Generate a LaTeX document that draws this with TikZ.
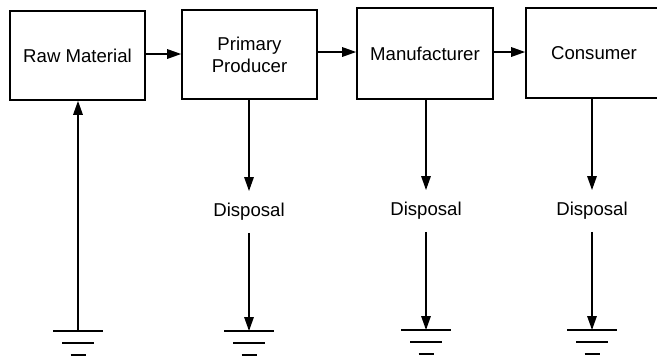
\documentclass[tikz,border=0pt]{standalone}
\usepackage{fontspec}
\setmainfont{Liberation Sans}
\usetikzlibrary{arrows.meta}
\begin{document}
\begin{tikzpicture}[x=1pt,y=-1pt,
  stage/.style={draw, line width=1.6pt, minimum width=135pt, minimum height=89pt,
    align=center, inner sep=0pt, font=\fontsize{18.6}{22}\selectfont},
  sink/.style={inner xsep=0pt, inner ysep=12pt, text height=13.5pt, text depth=4pt,
    font=\fontsize{18.6}{22}\selectfont},
  flow/.style={line width=1.5pt, -{Triangle[length=14pt,width=9.5pt]}},
  wire/.style={line width=1.5pt},
  pics/earthsym/.style={code={
    \draw[line width=1.6pt] (-25,0) -- (25,0);
    \draw[line width=1.6pt] (-16,12) -- (16,12);
    \draw[line width=1.6pt] (-7.5,24) -- (7.5,24);
  }}]
\useasboundingbox (0,0) rectangle (657,359);
\clip (0,0) rectangle (657,359);

% production chain
\node[stage] (raw)  at (77.5,55.5) {Raw Material};
\node[stage] (prim) at (249.5,54.5) {Primary\\Producer};
\node[stage, minimum width=136pt, minimum height=91pt] (manu) at (425,53.5) {Manufacturer};
\node[stage, minimum width=136pt, minimum height=90pt] (cons) at (594,53) {Consumer};

\draw[flow] (raw.east |- 0,54) -- (prim.west |- 0,54);
\draw[flow] (prim.east |- 0,52) -- (manu.west |- 0,52);
\draw[flow] (manu.east |- 0,52) -- (cons.west |- 0,52);

% disposal points
\node[sink] (d1) at (249,212) {Disposal};
\node[sink] (d2) at (426,211) {Disposal};
\node[sink] (d3) at (592,211) {Disposal};

% earth connections
\coordinate (g0) at (78,331);
\coordinate (g1) at (249,331);
\coordinate (g2) at (426,330);
\coordinate (g3) at (592,330);
\foreach \g in {g0,g1,g2,g3} \pic at (\g) {earthsym};

\draw[flow] (g0) -- (raw.south -| g0);
\draw[flow] (prim.south -| d1) -- (d1.north);
\draw[flow] (manu.south -| d2) -- (d2.north);
\draw[flow] (cons.south -| d3) -- (d3.north);
\draw[flow] (d1.south) -- (g1);
\draw[flow] (d2.south) -- (g2);
\draw[flow] (d3.south) -- (g3);
\end{tikzpicture}
\end{document}
